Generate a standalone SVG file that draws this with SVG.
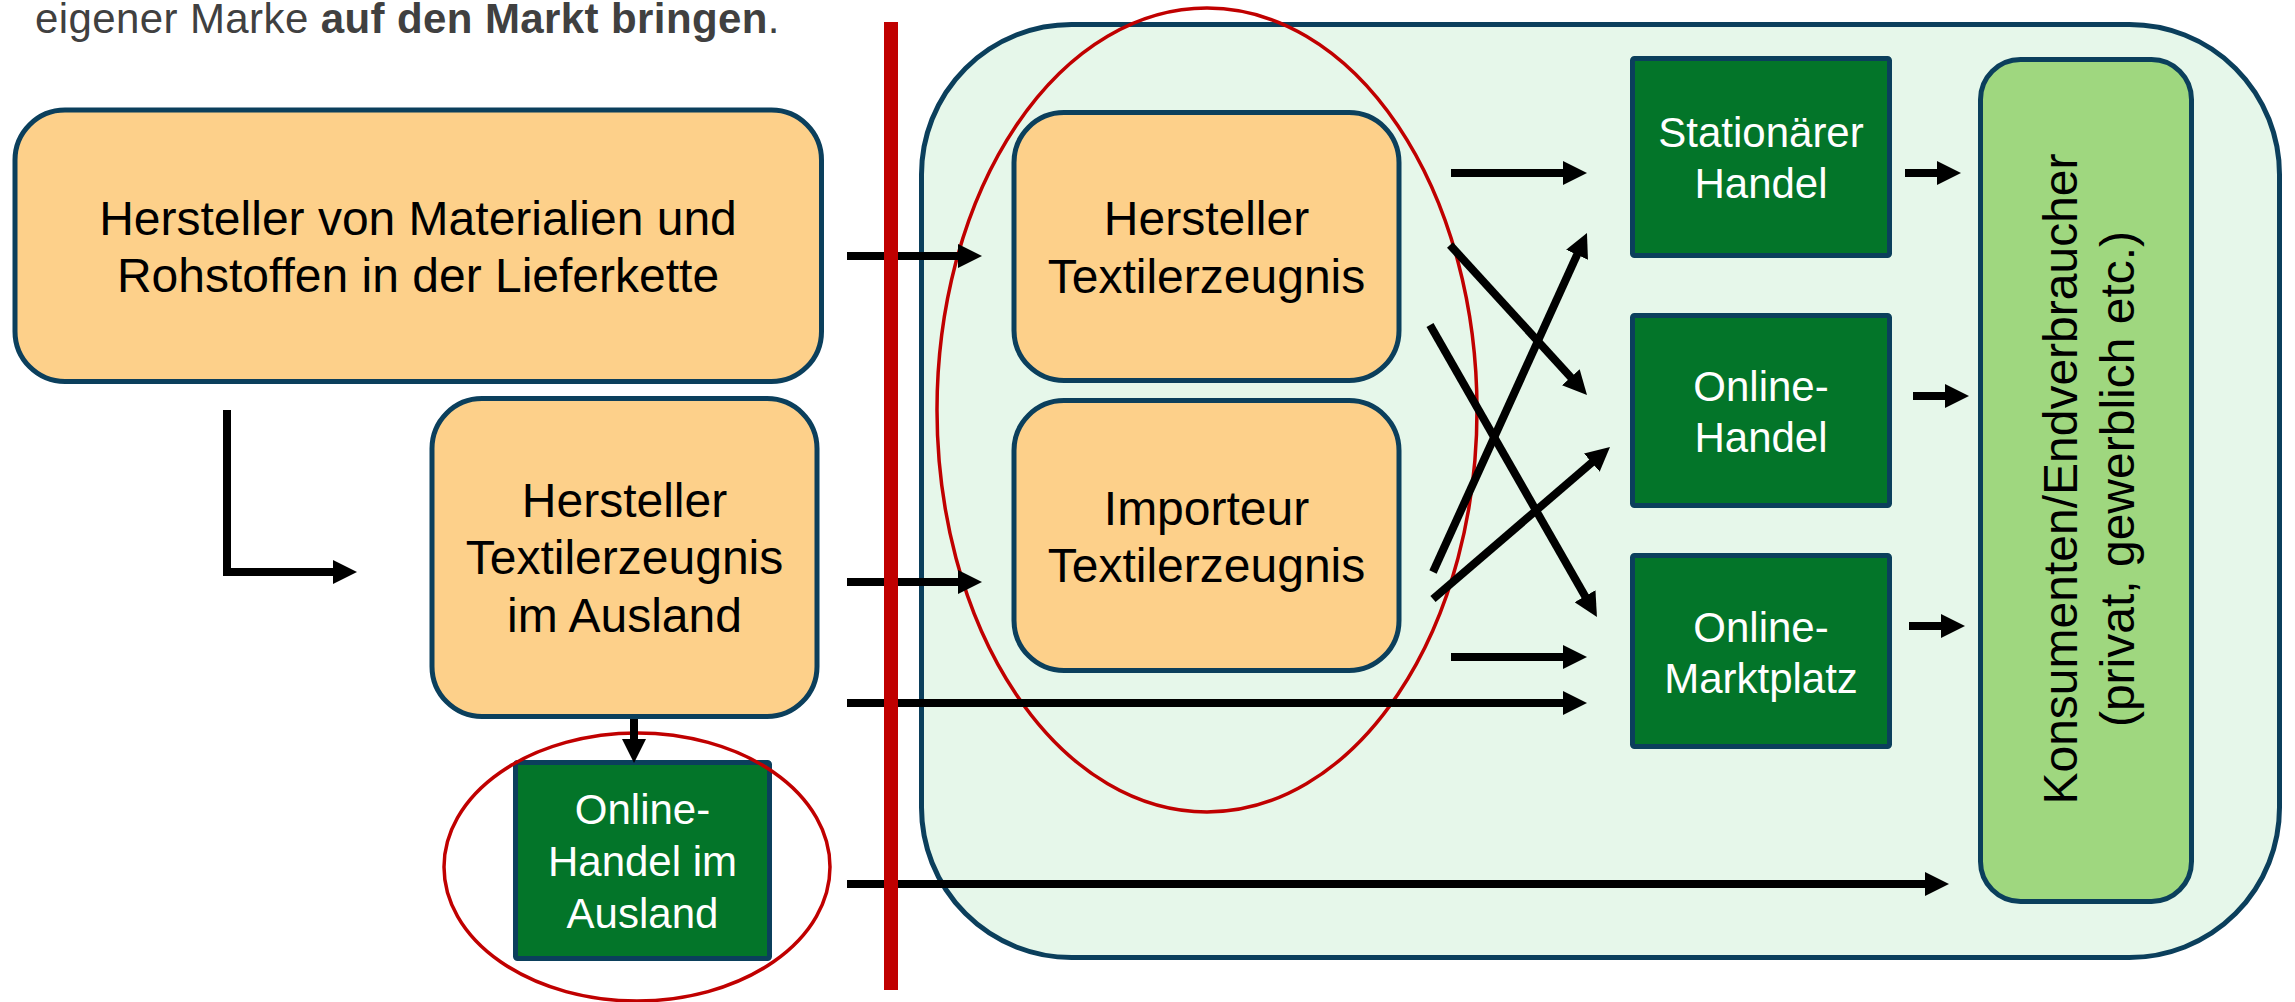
<svg xmlns="http://www.w3.org/2000/svg" width="2295" height="1002" viewBox="0 0 2295 1002">
<defs>
<style>
text{font-family:"Liberation Sans",Arial,sans-serif}
.orange{fill:#FDD08A;stroke:#0B3F5C;stroke-width:5}
.green{fill:#037529;stroke:#0B3F5C;stroke-width:5}
.cons{fill:#9FD77F;stroke:#0B3F5C;stroke-width:5}
.container{fill:#E6F7EA;stroke:#0B3F5C;stroke-width:5}
.ot{font-size:48px;fill:#000;text-anchor:middle}
.gt{font-size:42px;fill:#fff;text-anchor:middle}
.ct{font-size:48px;fill:#000;text-anchor:middle}
.conn{fill:none;stroke:#000;stroke-width:8;marker-end:url(#ah)}
.mark{fill:none;stroke:#C00000;stroke-width:3.5}
</style>
<marker id="ah" markerUnits="userSpaceOnUse" viewBox="0 0 24 24" markerWidth="24" markerHeight="24" refX="12" refY="12" orient="auto">
<path d="M0,0 L24,12 L0,24 Z" fill="#000"/>
</marker>
</defs>
<rect width="2295" height="1002" fill="#fff"/>
<text x="35" y="33" font-size="42" fill="#404040" letter-spacing="0.4">eigener Marke <tspan font-weight="bold">auf den Markt bringen</tspan>.</text>

<g id="markt">
<rect class="container" x="921.5" y="24.5" width="1358" height="933" rx="150" ry="150"/>
</g>

<g id="hersteller-materialien">
<rect class="orange" x="15" y="110" width="806.5" height="271.5" rx="50" ry="50"/>
<text class="ot" x="418" y="235">Hersteller von Materialien und</text>
<text class="ot" x="418" y="292">Rohstoffen in der Lieferkette</text>
</g>

<g id="hersteller-ausland">
<rect class="orange" x="432" y="398.5" width="385" height="318" rx="50" ry="50"/>
<text class="ot" x="624.5" y="517">Hersteller</text>
<text class="ot" x="624.5" y="574">Textilerzeugnis</text>
<text class="ot" x="624.5" y="632">im Ausland</text>
</g>

<g id="online-handel-ausland">
<rect class="green" x="515.5" y="762.5" width="254" height="196" rx="2"/>
<text class="gt" x="642.5" y="824">Online-</text>
<text class="gt" x="642.5" y="876">Handel im</text>
<text class="gt" x="642.5" y="928">Ausland</text>
</g>

<g id="hersteller-textil">
<rect class="orange" x="1014" y="112.5" width="385" height="268" rx="50" ry="50"/>
<text class="ot" x="1206.5" y="235">Hersteller</text>
<text class="ot" x="1206.5" y="293">Textilerzeugnis</text>
</g>

<g id="importeur">
<rect class="orange" x="1014" y="400.5" width="385" height="270" rx="50" ry="50"/>
<text class="ot" x="1206.5" y="525">Importeur</text>
<text class="ot" x="1206.5" y="582">Textilerzeugnis</text>
</g>

<g id="stationaer">
<rect class="green" x="1632.5" y="58.5" width="257" height="197" rx="2"/>
<text class="gt" x="1761" y="147">Stationärer</text>
<text class="gt" x="1761" y="198">Handel</text>
</g>

<g id="online-handel">
<rect class="green" x="1632.5" y="315.5" width="257" height="190" rx="2"/>
<text class="gt" x="1761" y="401">Online-</text>
<text class="gt" x="1761" y="452">Handel</text>
</g>

<g id="online-marktplatz">
<rect class="green" x="1632.5" y="555.5" width="257" height="191" rx="2"/>
<text class="gt" x="1761" y="642">Online-</text>
<text class="gt" x="1761" y="693">Marktplatz</text>
</g>

<g id="konsumenten">
<rect class="cons" x="1980.5" y="59.5" width="211" height="842" rx="40" ry="40"/>
<text class="ct" transform="translate(2092,479) rotate(-90)"><tspan x="0" y="-15">Konsumenten/Endverbraucher</tspan><tspan x="0" y="42">(privat, gewerblich etc.)</tspan></text>
</g>

<g id="highlights">
<ellipse class="mark" cx="1207" cy="410" rx="270" ry="402"/>
<ellipse class="mark" cx="637" cy="867" rx="193" ry="134"/>
</g>

<g id="connectors">
<path class="conn" d="M227,410 V572 H345" style="stroke-linejoin:miter"/>
<path class="conn" d="M847,256 H970"/>
<path class="conn" d="M847,582 H970"/>
<path class="conn" d="M847,703 H1575"/>
<path class="conn" d="M847,884 H1937"/>
<path class="conn" d="M634,719 V751"/>
<path class="conn" d="M1451,173 H1575"/>
<path class="conn" d="M1450,245 L1578.9,386.1"/>
<path class="conn" d="M1430,325 L1591,606.6"/>
<path class="conn" d="M1433,572 L1582,243.9"/>
<path class="conn" d="M1433,599 L1600.9,454.8"/>
<path class="conn" d="M1451,657 H1575"/>
<path class="conn" d="M1905,173 H1949"/>
<path class="conn" d="M1913,396 H1957"/>
<path class="conn" d="M1909,626 H1953"/>
</g>

<g id="grenze">
<rect x="884" y="22" width="14" height="968" fill="#C00000"/>
</g>
</svg>
